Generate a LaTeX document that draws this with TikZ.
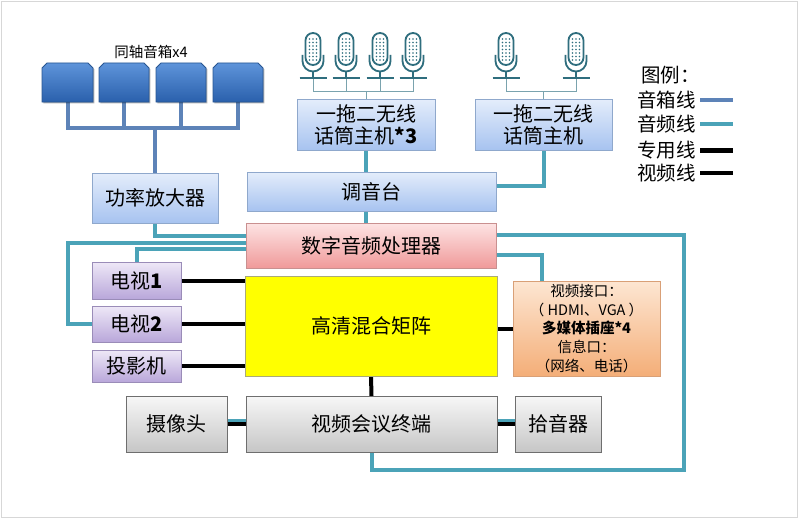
\documentclass[tikz,border=0pt]{standalone}
\usepackage{fontspec}
\setmainfont{Noto Sans CJK SC}
\usetikzlibrary{shadows,backgrounds}
\definecolor{spkblue}{HTML}{5D83B8}
\definecolor{audioteal}{HTML}{4BA3B8}
\definecolor{micteal}{HTML}{2F6E7E}
\definecolor{micline}{HTML}{7AA3AE}
\begin{document}
\begin{tikzpicture}[x=1pt,y=-1pt,
  box/.style={draw, line width=0.8pt, inner sep=0pt, outer sep=0pt, align=center,
    font=\fontsize{20}{22}\selectfont,
    drop shadow={shadow xshift=1.3pt, shadow yshift=-1.3pt, opacity=0.3, fill=black}},
  bluebox/.style={box, draw={rgb,255:red,143;green,168;blue,204}, top color={rgb,255:red,228;green,237;blue,251}, bottom color={rgb,255:red,167;green,195;blue,240}},
  pinkbox/.style={box, draw={rgb,255:red,201;green,144;blue,144}, top color={rgb,255:red,253;green,228;blue,228}, bottom color={rgb,255:red,240;green,154;blue,154}},
  purplebox/.style={box, draw={rgb,255:red,154;green,140;blue,184}, top color={rgb,255:red,238;green,232;blue,247}, bottom color={rgb,255:red,185;green,167;blue,218}},
  yellowbox/.style={box, draw={rgb,255:red,170;green,170;blue,120}, fill={rgb,255:red,255;green,255;blue,0}},
  orangebox/.style={box, draw={rgb,255:red,217;green,160;blue,119}, top color={rgb,255:red,253;green,230;blue,210}, bottom color={rgb,255:red,244;green,174;blue,120}},
  graybox/.style={box, draw={rgb,255:red,110;green,110;blue,110}, top color={rgb,255:red,247;green,247;blue,247}, bottom color={rgb,255:red,198;green,198;blue,198}},
  spkshape/.style={draw={rgb,255:red,40;green,86;blue,146}, line width=0.8pt, top color={rgb,255:red,94;green,148;blue,218}, bottom color={rgb,255:red,42;green,96;blue,172},
    drop shadow={shadow xshift=1.3pt, shadow yshift=-1.3pt, opacity=0.3, fill=black}},
  spk/.style={draw=spkblue, line width=4pt},
  audio/.style={draw=audioteal, line width=4pt},
  video/.style={draw=black, line width=4pt},
  micl/.style={draw=micline, line width=1pt},
  micdraw/.style={draw=micteal, line width=1.8pt},
  legendfont/.style={font=\fontsize{19.5}{21}\selectfont, inner sep=0pt}
]
\path[use as bounding box] (0,0) rectangle (800,519);
\begin{pgfonlayer}{background}
\fill[white] (0,0) rectangle (800,519);
\end{pgfonlayer}
\draw[draw={rgb,255:red,215;green,215;blue,215}, line width=1.2pt] (1.5,1.5) rectangle (797.5,517.5);

% speakers
\node[font=\fontsize{14.5}{16}\selectfont, inner sep=0pt] (spklabel) at (151,52) {同轴音箱x4};
\foreach \a/\b/\n in {42/93/s1, 99/149/s2, 156/206/s3, 213/263/s4} {
  \path[spkshape] (\a,102) -- (\a,68) -- (\a+5,63) -- (\b-5,63) -- (\b,68) -- (\b,102) -- cycle;
  \coordinate (\n) at ({(\a+\b)/2},102);
}

% microphones
\foreach \c/\n in {313/m1, 346/m2, 380/m3, 413/m4, 506/m5, 576/m6} {
  \draw[micdraw, fill=white, rounded corners=7.5pt] (\c-7.5,33) rectangle (\c+7.5,65);
  \foreach \dx in {-3.5,0,3.5} {
    \foreach \dy in {39,42.5,...,60} {
      \fill[micteal] (\c+\dx,\dy) circle (0.8);
    }
  }
  \draw[micdraw] (\c-10.5,55) -- (\c-10.5,61) arc[start angle=180, end angle=0, radius=10.5] -- (\c+10.5,55);
  \draw[micdraw] (\c,71.5) -- (\c,78);
  \draw[micdraw] (\c-13.5,78) -- (\c+13.5,78);
  \coordinate (\n) at (\c,78);
}

% boxes
\node[bluebox, minimum width=138pt, minimum height=51pt] (host1) at (366,124.5) {一拖二无线\\话筒主机\textbf{*3}};
\node[bluebox, minimum width=137pt, minimum height=51pt] (host2) at (543.5,124.5) {一拖二无线\\话筒主机};
\node[bluebox, minimum width=126pt, minimum height=50pt] (amp) at (155,198) {功率放大器};
\node[bluebox, minimum width=249pt, minimum height=39pt] (mixer) at (371.5,191.5) {调音台};
\node[pinkbox, minimum width=250pt, minimum height=45pt] (dsp) at (371,245.5) {数字音频处理器};
\node[purplebox, minimum width=89pt, minimum height=37pt] (tv1) at (136.5,280.5) {电视\textbf{1}};
\node[purplebox, minimum width=89pt, minimum height=36pt] (tv2) at (136.5,324) {电视\textbf{2}};
\node[purplebox, minimum width=89pt, minimum height=32pt] (proj) at (136.5,366) {投影机};
\node[yellowbox, minimum width=252pt, minimum height=100pt] (matrix) at (371,326) {高清混合矩阵};
\node[orangebox, minimum width=147pt, minimum height=95pt, font=\fontsize{14.5}{18.7}\selectfont] (mm) at (586.5,328.5)
  {视频接口：\\（ HDMI、VGA ）\\\textbf{多媒体插座*4}\\信息口：\\（网络、电话）};
\node[graybox, minimum width=101pt, minimum height=56pt] (cam) at (176.5,424) {摄像头};
\node[graybox, minimum width=251pt, minimum height=56pt] (vc) at (371.5,424) {视频会议终端};
\node[graybox, minimum width=86pt, minimum height=56pt] (pick) at (558,424) {拾音器};

% legend
\node[legendfont, anchor=west] (lgt) at (641,75) {图例：};
\node[legendfont, anchor=east] (lg1) at (696,100) {音箱线};
\node[legendfont, anchor=east] (lg2) at (696,124) {音频线};
\node[legendfont, anchor=east] (lg3) at (696,150) {专用线};
\node[legendfont, anchor=east] (lg4) at (696,173) {视频线};
\coordinate (l1a) at (700,100); \coordinate (l1b) at (733,100);
\coordinate (l2a) at (700,124); \coordinate (l2b) at (733,124);
\coordinate (l3a) at (700,150); \coordinate (l3b) at (733,150);
\coordinate (l4a) at (700,173); \coordinate (l4b) at (733,173);
\draw[spk, line width=3.5pt] (l1a) -- (l1b);
\draw[audio, line width=3.5pt] (l2a) -- (l2b);
\draw[video, line width=5pt] (l3a) -- (l3b);
\draw[video, line width=4pt] (l4a) -- (l4b);

\begin{pgfonlayer}{background}
% speaker lines
\draw[spk] (s1) -- (s1 |- 0,128) -- (s4 |- 0,128) -- (s4);
\draw[spk] (s2) -- (s2 |- 0,128);
\draw[spk] (s3) -- (s3 |- 0,128);
\draw[spk] (amp.north) -- (amp.north |- 0,128);
% mic lines
\draw[micl] (m1) -- (m1 |- 0,91) -- (m4 |- 0,91) -- (m4);
\draw[micl] (m2) -- (m2 |- 0,91);
\draw[micl] (m3) -- (m3 |- 0,91);
\draw[micl] (host1.north) -- (host1.north |- 0,91);
\draw[micl] (m5) -- (m5 |- 0,91) -- (m6 |- 0,91) -- (m6);
\draw[micl] (host2.north) -- (host2.north |- 0,91);
% audio lines
\draw[audio] (host1.south) -- (host1.south |- mixer.north);
\draw[audio] (host2.south) |- (mixer.east |- 0,186);
\draw[audio] (host1.south |- mixer.south) -- (host1.south |- dsp.north);
\draw[audio] (amp.south) |- (dsp.west |- 0,236);
\draw[audio] (dsp.west |- 0,243) -- ++(-178,0) |- (tv2.west);
\draw[audio] (dsp.west |- 0,249) -| (tv1.north);
\draw[audio] (dsp.east |- 0,235) -- (684,235) -- (684,470) -| (vc.south);
\draw[audio] (dsp.east |- 0,255) -| (mm.north -| 542,0);
% video lines
\draw[video] (tv1.east) -- (tv1.east -| matrix.west);
\draw[video] (tv2.east) -- (tv2.east -| matrix.west);
\draw[video] (proj.east) -- (proj.east -| matrix.west);
\draw[video] (mm.west) -- (mm.west -| matrix.east);
\draw[video] (matrix.south) -- (vc.north);
% special lines
\draw[audio, line width=3.5pt] ([yshift=3.5pt]cam.east) -- ([yshift=3.5pt]vc.west);
\draw[video, line width=3.5pt] (cam.east) -- (vc.west);
\draw[audio, line width=3.5pt] ([yshift=3.5pt]vc.east) -- ([yshift=3.5pt]pick.west);
\draw[video, line width=3.5pt] (vc.east) -- (pick.west);
\end{pgfonlayer}
\end{tikzpicture}
\end{document}
